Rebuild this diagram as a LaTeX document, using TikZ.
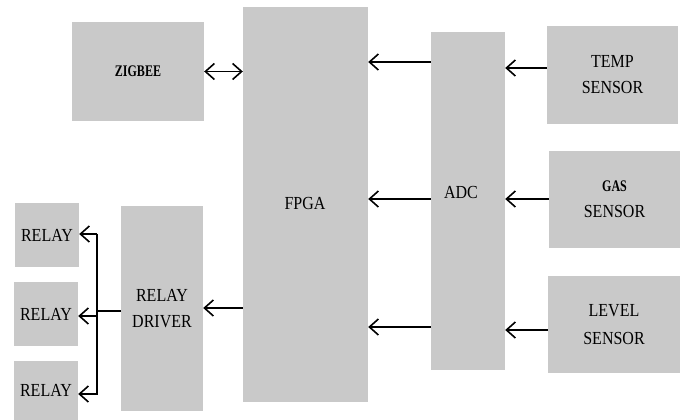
\documentclass[tikz,border=0pt]{standalone}
\usepackage{fontspec}
\setmainfont{Liberation Serif}
\newfontfamily\tms{Liberation Serif}
\usetikzlibrary{arrows.meta}
\definecolor{boxgray}{RGB}{201,201,201}
\newcommand\vst[1]{\scalebox{1}[1.15]{#1}}
\newcommand\vsb[1]{\scalebox{1}[1.35]{#1}}
\begin{document}
\begin{tikzpicture}[x=1pt,y=-1pt,
  blk/.style={fill=boxgray, draw=none, inner sep=0pt, align=center,
    font=\tms\fontsize{16}{26}\selectfont},
  lbl/.style={font=\tms\fontsize{16}{26}\selectfont, inner sep=0pt},
  barb/.tip={Straight Barb[length=9pt,width=16pt,line width=1.6pt]},
  conn/.style={line width=1.8pt, -barb},
  twoway/.style={line width=1.8pt, barb-barb},
  wire/.style={line width=1.8pt}]
\useasboundingbox (0,0) rectangle (685,420);
\node[blk, minimum width=132pt, minimum height=99pt, font=\tms\bfseries\fontsize{12}{14}\selectfont] (zig) at (138,71.5) {\vsb{ZIGBEE}};
\node[blk, minimum width=125pt, minimum height=395pt] (fpga) at (305.5,204.5) {};
\node[lbl] (fpgat) at (305,203) {\vst{FPGA}};
\node[blk, minimum width=74pt, minimum height=338pt] (adc) at (468,201) {};
\node[lbl] (adct) at (461,192) {\vst{ADC}};
\node[blk, minimum width=131pt, minimum height=98pt] (temp) at (612.5,75) {\vst{TEMP}\\\vst{SENSOR}};
\node[blk, minimum width=131pt, minimum height=97pt] (gas) at (614.5,199.5) {{\bfseries\fontsize{12}{14}\selectfont\vsb{GAS}}\\\vst{SENSOR}};
\node[blk, minimum width=132pt, minimum height=97pt] (level) at (614,324.5) {\vst{LEVEL}\\[2pt]\vst{SENSOR}};
\node[blk, minimum width=64pt, minimum height=64pt] (r1) at (47,235) {\vst{RELAY}};
\node[blk, minimum width=64pt, minimum height=64pt] (r2) at (46,314) {\vst{RELAY}};
\node[blk, minimum width=64pt, minimum height=59pt] (r3) at (46,390.5) {\vst{RELAY}};
\node[blk, minimum width=82pt, minimum height=205pt] (drv) at (162,308.5) {\vst{RELAY}\\\vst{DRIVER}};
\coordinate (bus) at (97,311);
% ZIGBEE <-> FPGA
\draw[twoway] (zig.east) -- (fpga.west |- zig.east);
% ADC -> FPGA
\draw[conn] (adc.west |- 0,62) -- (fpga.east |- 0,62);
\draw[conn] (adc.west |- 0,199) -- (fpga.east |- 0,199);
\draw[conn] (adc.west |- 0,327) -- (fpga.east |- 0,327);
% sensors -> ADC
\draw[conn] (temp.west |- 0,68) -- (adc.east |- 0,68);
\draw[conn] (gas.west |- 0,199) -- (adc.east |- 0,199);
\draw[conn] (level.west |- 0,330) -- (adc.east |- 0,330);
% FPGA -> driver
\draw[conn] (fpga.west |- 0,308) -- (drv.east |- 0,308);
% driver -> relays
\draw[wire] (drv.west |- bus) -- (bus);
\draw[wire] (bus |- 0,233.5) -- (bus |- 0,394.5);
\draw[conn] (bus |- 0,234) -- (r1.east |- 0,234);
\draw[conn] (bus |- 0,316) -- (r2.east |- 0,316);
\draw[conn] (bus |- 0,394) -- (r3.east |- 0,394);
\end{tikzpicture}
\end{document}
